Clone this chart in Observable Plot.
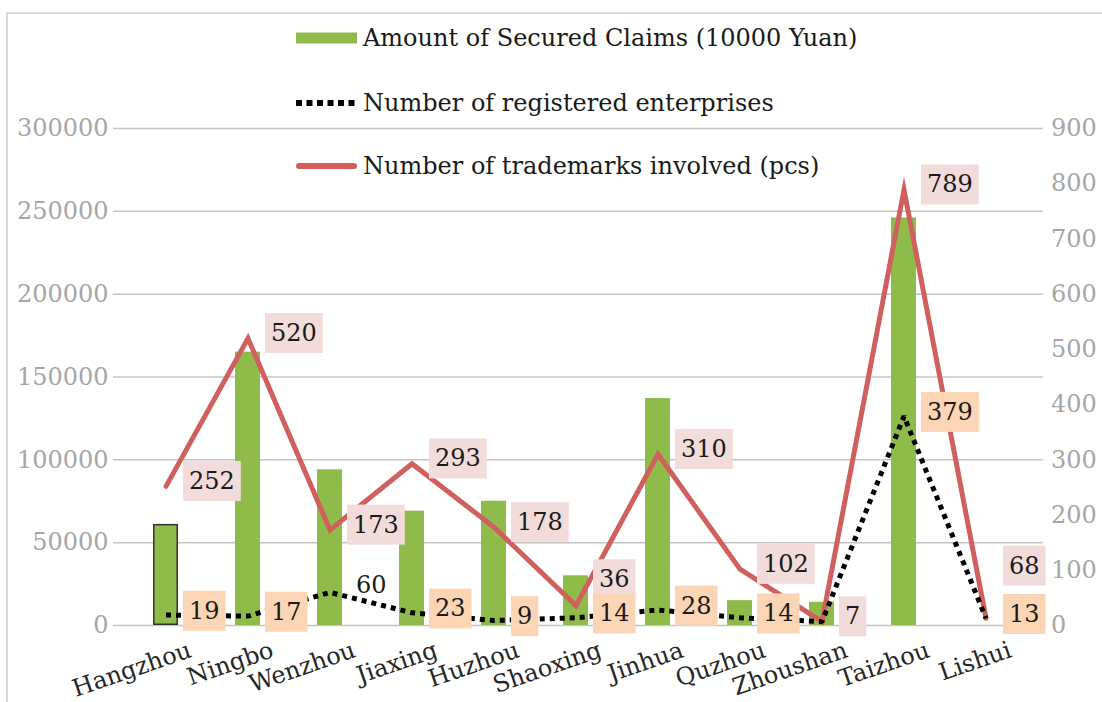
<!DOCTYPE html>
<html><head><meta charset="utf-8">
<script src="https://cdn.jsdelivr.net/npm/d3@7"></script>
<script src="https://cdn.jsdelivr.net/npm/@observablehq/plot@0.6"></script>
<style>
body{margin:0;background:#fff;width:1102px;height:702px;overflow:hidden;position:relative;font-family:"DejaVu Serif",serif;}
#frame{position:absolute;left:6px;top:12px;width:1200px;height:800px;border:2px solid #d9d9d9;box-sizing:border-box;}
#chart{position:absolute;left:0;top:0;}
#legend{position:absolute;left:296px;top:0;width:700px;height:200px;}
.item{position:absolute;left:0;height:30px;display:flex;align-items:center;white-space:nowrap;font-size:24px;color:#1a1a1a;}
.item svg{margin-right:6px;}
</style></head><body>
<div id="frame"></div>
<div id="chart"></div>
<div id="legend"></div>
<script>
const cities = ["Hangzhou","Ningbo","Wenzhou","Jiaxing","Huzhou","Shaoxing","Jinhua","Quzhou","Zhoushan","Taizhou","Lishui"];
const claims = [61000,165000,94000,69000,75000,30000,137000,15000,14000,246000,0];
const enterprises = [19,17,60,23,9,14,28,14,7,379,13];
const trademarks = [252,520,173,293,178,36,310,102,7,789,13];
const trademarkLabels = ["252","520","173","293","178","36","310","102","7","789","68"];
const enterpriseLabels = ["19","17","60","23","9","14","28","14","","379","13"];
const seriesNames = ["Amount of Secured Claims (10000 Yuan)","Number of registered enterprises","Number of trademarks involved (pcs)"];
const leftTicks = [0,50000,100000,150000,200000,250000,300000];
const rightTicks = [0,100,200,300,400,500,600,700,800,900];

const GREEN = "#8fbb4b", RED = "#d0605e", PINK = "#f2dcdb", PEACH = "#fcd5b4";
const k = 300000 / 900; // right axis units -> left axis units

const rows = cities.map((c, i) => ({
  city: c, claims: claims[i],
  ent: enterprises[i] * k, tm: trademarks[i] * k,
  entLabel: enterpriseLabels[i], tmLabel: trademarkLabels[i],
  entLabelY: +enterpriseLabels[i] * k, tmLabelY: +trademarkLabels[i] * k
}));

const tmNudge = {Shaoxing: -26, Lishui: -22};
const unboxed = new Set(["Wenzhou"]);

const labelFont = {fontSize: 24, fill: "#1a1a1a", textAnchor: "start", dx: 23};

const chart = Plot.plot({
  width: 1102, height: 702,
  marginLeft: 119.5, marginRight: 70.6, marginTop: 128, marginBottom: 77,
  style: {fontFamily: "DejaVu Serif", fontSize: "24px", background: "transparent", overflow: "visible"},
  x: {type: "band", domain: cities, paddingInner: 0.69, paddingOuter: 0.345, axis: null},
  y: {domain: [0, 300000], axis: null},
  marks: [
    Plot.ruleY(leftTicks, {stroke: "#c4c4c4", strokeWidth: 1.5, insetLeft: -6.5, insetRight: -11.6}),
    Plot.axisY(leftTicks, {anchor: "left", tickSize: 0, tickPadding: 11.5, tickFormat: d => String(d), color: "#a6a6a6", fill: "#a6a6a6", fontSize: 24, label: null}),
    Plot.axisY(rightTicks.map(v => v * k), {anchor: "right", tickSize: 0, tickPadding: 19, tickFormat: d => String(Math.round(d / k)), color: "#a6a6a6", fill: "#a6a6a6", fontSize: 24, label: null}),
    Plot.barY(rows, {x: "city", y: "claims", fill: GREEN}),
    Plot.barY(rows.filter(d => d.city === "Hangzhou"), {x: "city", y: "claims", fill: GREEN, stroke: "#333", strokeWidth: 1.5, inset: 0.75}),
    Plot.lineY(rows, {x: "city", y: "tm", stroke: RED, strokeWidth: 5, strokeLinejoin: "miter", strokeMiterlimit: 10}),
    Plot.lineY(rows, {x: "city", y: "ent", stroke: "#000", strokeWidth: 5, strokeDasharray: "5,5", strokeLinecap: "butt", strokeLinejoin: "miter"}),
    // trademark labels (pink boxes)
    Plot.text(rows.filter(d => !(d.city in tmNudge)), {x: "city", y: "tmLabelY", text: "tmLabel", ...labelFont, dy: -5, ariaDescription: "box-pink"}),
    Plot.text(rows.filter(d => d.city === "Shaoxing"), {x: "city", y: "tmLabelY", text: "tmLabel", ...labelFont, dy: tmNudge.Shaoxing, ariaDescription: "box-pink"}),
    Plot.text(rows.filter(d => d.city === "Lishui"), {x: "city", y: "tmLabelY", text: "tmLabel", ...labelFont, dy: tmNudge.Lishui, ariaDescription: "box-pink"}),
    // enterprise labels (peach boxes)
    Plot.text(rows.filter(d => d.entLabel && !unboxed.has(d.city)), {x: "city", y: "entLabelY", text: "entLabel", ...labelFont, dy: -4, ariaDescription: "box-peach"}),
    Plot.text(rows.filter(d => unboxed.has(d.city)), {x: "city", y: "entLabelY", text: "entLabel", ...labelFont, dx: 26, dy: -7}),
    // category labels
    Plot.text(cities, {x: d => d, frameAnchor: "bottom", text: d => d, rotate: -19, textAnchor: "end", fontSize: 24, fill: "#262626", dx: 27, dy: 31})
  ]
});
document.getElementById("chart").appendChild(chart);

function addBoxes(svg, label, color) {
  svg.querySelectorAll(`g[aria-description="${label}"] text`).forEach(t => {
    const b = t.getBBox();
    const r = document.createElementNS("http://www.w3.org/2000/svg", "rect");
    r.setAttribute("x", b.x - 6);
    r.setAttribute("width", b.width + 12);
    r.setAttribute("y", b.y + b.height / 2 - 20);
    r.setAttribute("height", 40);
    r.setAttribute("fill", color);
    r.setAttribute("stroke", "none");
    const tr = t.getAttribute("transform");
    if (tr) r.setAttribute("transform", tr);
    t.parentNode.insertBefore(r, t);
  });
}
addBoxes(chart, "box-pink", PINK);
addBoxes(chart, "box-peach", PEACH);

// legend
const legend = document.getElementById("legend");
const swatches = [
  `<svg width="61" height="12"><rect x="0" y="0.5" width="61" height="11" fill="${GREEN}"/></svg>`,
  `<svg width="61" height="12"><line x1="0" x2="61" y1="6" y2="6" stroke="#000" stroke-width="6" stroke-dasharray="6,4.5"/></svg>`,
  `<svg width="61" height="12"><line x1="3" x2="58" y1="6" y2="6" stroke="${RED}" stroke-width="6" stroke-linecap="round"/></svg>`
];
const centers = [38, 103, 166];
seriesNames.forEach((name, i) => {
  const div = document.createElement("div");
  div.className = "item";
  div.style.top = (centers[i] - 15) + "px";
  div.innerHTML = swatches[i] + `<span>${name}</span>`;
  legend.appendChild(div);
});
</script>
</body></html>
